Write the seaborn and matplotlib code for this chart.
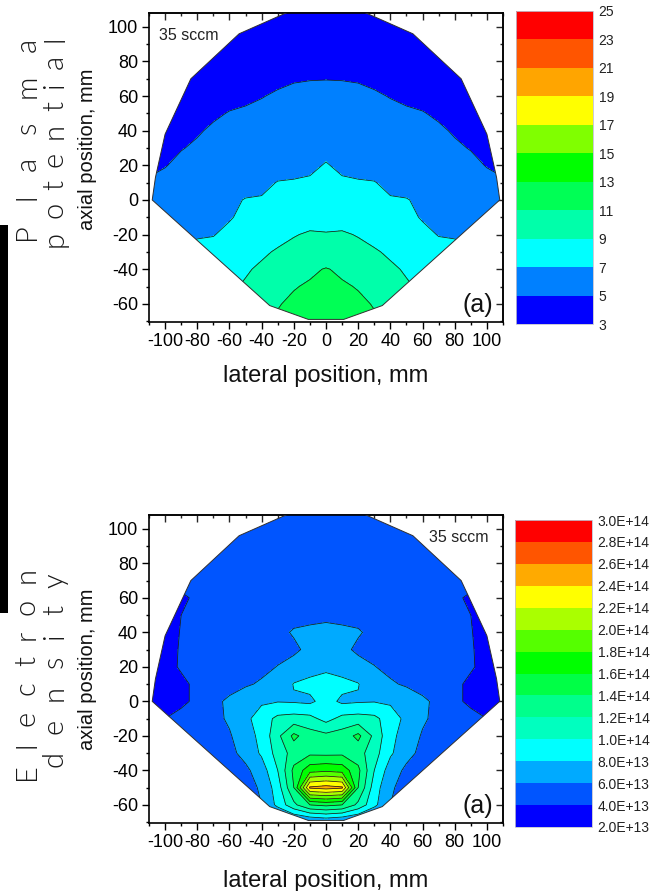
import numpy as np
import matplotlib
matplotlib.use("Agg")
import matplotlib.pyplot as plt
from matplotlib.patches import Polygon, Rectangle
import seaborn as sns

sns.set_theme(style="ticks")
plt.rcParams["font.family"] = ["Liberation Sans", "DejaVu Sans"]
plt.rcParams["axes.unicode_minus"] = False

FIG_W, FIG_H = 654, 891

# measurement grid (mm)
lateral_mm = [-110, -100, -90, -80, -70, -60, -50, -40, -30, -20, -10, 0,
              10, 20, 30, 40, 50, 60, 70, 80, 90, 100, 110]
axial_mm = [110, 100, 90, 80, 70, 60, 50, 40, 30, 20, 10, 0,
            -10, -20, -30, -40, -50, -60, -70]

# plasma potential, V  (rows = axial_mm, columns = lateral_mm)
potential_V = [
    [2.8, 2.9, 3.0, 3.1, 3.2, 3.3, 3.4, 3.5, 3.6, 3.7, 3.8, 3.8, 3.8, 3.7, 3.6, 3.5, 3.4, 3.3, 3.2, 3.1, 3.0, 2.9, 2.8],
    [3.0, 3.1, 3.2, 3.3, 3.4, 3.5, 3.6, 3.7, 3.8, 3.9, 4.0, 4.0, 4.0, 3.9, 3.8, 3.7, 3.6, 3.5, 3.4, 3.3, 3.2, 3.1, 3.0],
    [3.3, 3.4, 3.5, 3.6, 3.7, 3.8, 3.9, 4.0, 4.1, 4.2, 4.3, 4.3, 4.3, 4.2, 4.1, 4.0, 3.9, 3.8, 3.7, 3.6, 3.5, 3.4, 3.3],
    [3.6, 3.7, 3.8, 3.9, 4.0, 4.1, 4.2, 4.3, 4.4, 4.5, 4.6, 4.6, 4.6, 4.5, 4.4, 4.3, 4.2, 4.1, 4.0, 3.9, 3.8, 3.7, 3.6],
    [3.9, 4.0, 4.1, 4.2, 4.3, 4.4, 4.5, 4.6, 4.75, 4.9, 4.95, 4.97, 4.95, 4.9, 4.75, 4.6, 4.5, 4.4, 4.3, 4.2, 4.1, 4.0, 3.9],
    [4.1, 4.25, 4.35, 4.5, 4.6, 4.7, 4.8, 4.95, 5.15, 5.3, 5.4, 5.4, 5.4, 5.3, 5.15, 4.95, 4.8, 4.7, 4.6, 4.5, 4.35, 4.25, 4.1],
    [4.3, 4.45, 4.6, 4.75, 4.85, 5.05, 5.15, 5.3, 5.5, 5.7, 5.8, 5.8, 5.8, 5.7, 5.5, 5.3, 5.15, 5.05, 4.85, 4.75, 4.6, 4.45, 4.3],
    [4.5, 4.65, 4.8, 4.9, 5.15, 5.35, 5.5, 5.6, 5.8, 6.0, 6.1, 6.2, 6.1, 6.0, 5.8, 5.6, 5.5, 5.35, 5.15, 4.9, 4.8, 4.65, 4.5],
    [4.65, 4.8, 4.95, 5.15, 5.5, 5.65, 5.8, 5.9, 6.1, 6.3, 6.4, 6.6, 6.4, 6.3, 6.1, 5.9, 5.8, 5.65, 5.5, 5.15, 4.95, 4.8, 4.65],
    [4.8, 4.95, 5.25, 5.5, 5.8, 6.0, 6.2, 6.3, 6.5, 6.6, 6.7, 7.1, 6.7, 6.6, 6.5, 6.3, 6.2, 6.0, 5.8, 5.5, 5.25, 4.95, 4.8],
    [5.1, 5.3, 5.6, 5.9, 6.2, 6.4, 6.6, 6.7, 7.05, 7.1, 7.2, 7.3, 7.2, 7.1, 7.05, 6.7, 6.6, 6.4, 6.2, 5.9, 5.6, 5.3, 5.1],
    [5.5, 5.7, 6.0, 6.3, 6.5, 6.8, 7.05, 7.1, 7.4, 7.6, 7.7, 7.8, 7.7, 7.6, 7.4, 7.1, 7.05, 6.8, 6.5, 6.3, 6.0, 5.7, 5.5],
    [5.8, 6.0, 6.3, 6.6, 6.75, 6.9, 7.3, 7.6, 7.9, 8.2, 8.3, 8.4, 8.3, 8.2, 7.9, 7.6, 7.3, 6.9, 6.75, 6.6, 6.3, 6.0, 5.8],
    [6.1, 6.3, 6.6, 6.9, 6.95, 7.3, 7.8, 8.1, 8.4, 8.9, 9.2, 9.1, 9.2, 8.9, 8.4, 8.1, 7.8, 7.3, 6.95, 6.9, 6.6, 6.3, 6.1],
    [6.4, 6.6, 7.0, 7.3, 7.4, 7.8, 8.3, 8.7, 9.2, 9.5, 9.8, 9.8, 9.8, 9.5, 9.2, 8.7, 8.3, 7.8, 7.4, 7.3, 7.0, 6.6, 6.4],
    [6.8, 7.0, 7.4, 7.7, 7.8, 8.3, 8.8, 9.3, 9.8, 10.2, 10.7, 11.1, 10.7, 10.2, 9.8, 9.3, 8.8, 8.3, 7.8, 7.7, 7.4, 7.0, 6.8],
    [7.2, 7.4, 7.8, 8.1, 8.2, 8.7, 9.2, 9.9, 10.4, 10.9, 11.2, 11.6, 11.2, 10.9, 10.4, 9.9, 9.2, 8.7, 8.2, 8.1, 7.8, 7.4, 7.2],
    [7.6, 7.8, 8.2, 8.5, 8.6, 9.1, 9.7, 10.4, 10.9, 11.3, 11.6, 12.0, 11.6, 11.3, 10.9, 10.4, 9.7, 9.1, 8.6, 8.5, 8.2, 7.8, 7.6],
    [8.0, 8.2, 8.6, 8.9, 9.0, 9.4, 10.1, 10.8, 11.2, 11.5, 11.8, 12.2, 11.8, 11.5, 11.2, 10.8, 10.1, 9.4, 9.0, 8.9, 8.6, 8.2, 8.0],
]

# electron density, 1e13 cm^-3  (rows = axial_mm, columns = lateral_mm)
density_1e13 = [
    [4.3, 4.4, 4.5, 4.6, 4.6, 4.6, 4.6, 4.6, 4.6, 4.6, 4.6, 4.6, 4.6, 4.6, 4.6, 4.6, 4.6, 4.6, 4.6, 4.6, 4.5, 4.4, 4.3],
    [4.3, 4.4, 4.5, 4.6, 4.6, 4.7, 4.7, 4.7, 4.7, 4.7, 4.7, 4.7, 4.7, 4.7, 4.7, 4.7, 4.7, 4.7, 4.6, 4.6, 4.5, 4.4, 4.3],
    [4.2, 4.3, 4.5, 4.6, 4.7, 4.7, 4.8, 4.8, 4.8, 4.8, 4.8, 4.8, 4.8, 4.8, 4.8, 4.8, 4.8, 4.7, 4.7, 4.6, 4.5, 4.3, 4.2],
    [4.0, 4.1, 4.3, 4.6, 4.7, 4.7, 4.8, 4.8, 4.9, 4.9, 4.9, 4.9, 4.9, 4.9, 4.9, 4.8, 4.8, 4.7, 4.7, 4.6, 4.3, 4.1, 4.0],
    [3.7, 3.9, 4.2, 4.5, 4.7, 4.8, 4.8, 4.9, 4.9, 5.0, 5.0, 5.0, 5.0, 5.0, 4.9, 4.9, 4.8, 4.8, 4.7, 4.5, 4.2, 3.9, 3.7],
    [3.5, 3.7, 3.9, 4.1, 4.4, 4.6, 4.8, 4.9, 5.0, 5.1, 5.2, 5.2, 5.2, 5.1, 5.0, 4.9, 4.8, 4.6, 4.4, 4.1, 3.9, 3.7, 3.5],
    [3.4, 3.6, 4.0, 4.3, 4.5, 4.7, 4.9, 5.0, 5.2, 5.5, 5.6, 5.7, 5.6, 5.5, 5.2, 5.0, 4.9, 4.7, 4.5, 4.3, 4.0, 3.6, 3.4],
    [3.4, 3.6, 4.05, 4.4, 4.6, 4.8, 5.0, 5.2, 5.6, 6.15, 6.3, 6.4, 6.3, 6.15, 5.6, 5.2, 5.0, 4.8, 4.6, 4.4, 4.05, 3.6, 3.4],
    [3.3, 3.6, 4.1, 4.5, 4.7, 4.9, 5.1, 5.3, 5.5, 5.7, 6.4, 6.6, 6.4, 5.7, 5.5, 5.3, 5.1, 4.9, 4.7, 4.5, 4.1, 3.6, 3.3],
    [3.3, 3.7, 4.1, 4.5, 4.8, 5.1, 5.3, 5.6, 6.05, 6.6, 7.1, 7.6, 7.1, 6.6, 6.05, 5.6, 5.3, 5.1, 4.8, 4.5, 4.1, 3.7, 3.3],
    [3.3, 3.6, 3.8, 4.2, 5.0, 5.4, 5.8, 6.2, 6.6, 8.1, 8.6, 8.8, 8.6, 8.1, 6.6, 6.2, 5.8, 5.4, 5.0, 4.2, 3.8, 3.6, 3.3],
    [3.3, 3.5, 3.8, 4.2, 5.6, 6.3, 7.0, 7.7, 7.9, 7.8, 7.6, 8.8, 7.6, 7.8, 7.9, 7.7, 7.0, 6.3, 5.6, 4.2, 3.8, 3.5, 3.3],
    [3.8, 4.0, 4.3, 4.6, 5.4, 6.3, 7.5, 9.0, 10.5, 10.8, 10.6, 9.3, 10.6, 10.8, 10.5, 9.0, 7.5, 6.3, 5.4, 4.6, 4.3, 4.0, 3.8],
    [4.0, 4.1, 4.3, 4.6, 5.0, 5.8, 7.2, 8.5, 11.5, 14.5, 12.9, 12.5, 12.9, 14.5, 11.5, 8.5, 7.2, 5.8, 5.0, 4.6, 4.3, 4.1, 4.0],
    [4.1, 4.2, 4.4, 4.6, 4.9, 5.5, 6.6, 8.3, 10.8, 12.8, 13.6, 13.5, 13.6, 12.8, 10.8, 8.3, 6.6, 5.5, 4.9, 4.6, 4.4, 4.2, 4.1],
    [4.2, 4.3, 4.4, 4.5, 4.7, 5.0, 5.6, 7.0, 10.0, 14.5, 17.2, 17.6, 17.2, 14.5, 10.0, 7.0, 5.6, 5.0, 4.7, 4.5, 4.4, 4.3, 4.2],
    [4.2, 4.3, 4.4, 4.5, 4.6, 4.8, 5.2, 6.3, 9.0, 14.0, 24.3, 24.8, 24.3, 14.0, 9.0, 6.3, 5.2, 4.8, 4.6, 4.5, 4.4, 4.3, 4.2],
    [4.2, 4.2, 4.3, 4.4, 4.5, 4.7, 5.0, 6.0, 8.5, 11.5, 14.0, 14.5, 14.0, 11.5, 8.5, 6.0, 5.0, 4.7, 4.5, 4.4, 4.3, 4.2, 4.2],
    [4.2, 4.2, 4.2, 4.2, 4.3, 4.3, 4.4, 4.5, 4.6, 5.0, 5.5, 6.0, 5.5, 5.0, 4.6, 4.5, 4.4, 4.3, 4.3, 4.2, 4.2, 4.2, 4.2],
]

# outline of the measured region (mm)
domain_lateral = [-108, -106, -100, -84, -54, -20, 20, 54, 84, 100, 106, 108, 35, 11, -11, -35]
domain_axial = [0, 13, 38, 70, 96, 110, 110, 96, 70, 38, 13, 0, -61, -69, -69, -61]

pot_levels = [3, 5, 7, 9, 11, 13, 15, 17, 19, 21, 23, 25]
pot_hex = ["#0000ff", "#0080ff", "#00ffff", "#00ffaa", "#00ff55", "#00ff00",
           "#80ff00", "#ffff00", "#ffa500", "#ff5500", "#ff0000"]

dens_levels = [2, 4, 6, 8, 10, 12, 14, 16, 18, 20, 22, 24, 26, 28, 30]
dens_hex = ["#0000ff", "#0055ff", "#00aaff", "#00ffff", "#00ffbf", "#00ff8c",
            "#00ff46", "#00ff00", "#55ff00", "#aaff00", "#ffff00", "#ffaa00",
            "#ff5500", "#ff0000"]

side_font = ["Lato", "DejaVu Sans"]


def draw_map(ax, cax, values, levels, colors, labels, sccm_x, sccm_ha, ylabel_y, xlabel_y):
    outline = Polygon(np.column_stack([domain_lateral, domain_axial]), closed=True,
                      facecolor="none", edgecolor="#303030", lw=0.7, zorder=3)
    ax.add_patch(outline)
    cs = ax.contourf(lateral_mm, axial_mm, values, levels=levels, colors=colors)
    cl = ax.contour(lateral_mm, axial_mm, values, levels=levels, colors="#1a1a1a", linewidths=0.55)
    cs.set_clip_path(outline)
    cl.set_clip_path(outline)

    ax.set_xlim(-110, 110)
    ax.set_ylim(-70.5, 108)
    ax.set_xticks(np.arange(-100, 101, 20))
    ax.set_xticks(np.arange(-110, 111, 10), minor=True)
    ax.set_yticks(np.arange(-60, 101, 20))
    ax.set_yticks(np.arange(-70, 101, 10), minor=True)
    ax.tick_params(which="both", direction="out", width=1, colors="black", labelsize=13, pad=3)
    ax.tick_params(which="major", length=5)
    ax.tick_params(which="minor", length=2.5)
    for s in ax.spines.values():
        s.set_linewidth(1.2)
        s.set_color("black")

    secx = ax.secondary_xaxis("top")
    secx.set_xticks(np.arange(-100, 101, 20))
    secx.set_xticks(np.arange(-110, 111, 10), minor=True)
    secx.tick_params(axis="x", which="both", direction="in", width=1,
                     labeltop=False, labelbottom=False)
    secx.tick_params(which="major", length=5)
    secx.tick_params(which="minor", length=2.5)
    secx.spines["top"].set_linewidth(1.2)
    secy = ax.secondary_yaxis("right")
    secy.set_yticks(np.arange(-60, 101, 20))
    secy.set_yticks(np.arange(-70, 101, 10), minor=True)
    secy.tick_params(axis="y", which="both", direction="in", width=1,
                     labelright=False, labelleft=False)
    secy.tick_params(which="major", length=5)
    secy.tick_params(which="minor", length=2.5)
    secy.spines["right"].set_linewidth(1.2)

    ax.set_xlabel("lateral position, mm", fontsize=17, color="#111111")
    ax.set_ylabel("axial position, mm", fontsize=14.5, color="#111111")
    ax.xaxis.set_label_coords(0.5, xlabel_y)
    ax.yaxis.set_label_coords(-0.147, ylabel_y)

    ax.text(sccm_x, 95, "35 sccm", ha=sccm_ha, va="center", fontsize=11.5, color="#222222")
    ax.text(104, -60.5, "(a)", ha="right", va="center", fontsize=18, color="#111111")

    cb = fig.colorbar(cs, cax=cax, ticks=levels)
    cb.set_ticklabels(labels)
    cb.outline.set_linewidth(0.6)
    cb.outline.set_edgecolor("#c0c0d0")
    cax.tick_params(length=0, labelsize=10, pad=4, colors="#222222")


def spread_word(word, x_px, y_bottom_px, y_top_px, size):
    r = fig.canvas.get_renderer()
    texts = [fig.text(0, 0, ch, fontsize=size, family=side_font, fontweight=300,
                      color="#1a1a1a") for ch in word]
    widths = [t.get_window_extent(r).width for t in texts]
    gap = ((y_bottom_px - y_top_px) - sum(widths)) / (len(word) - 1)
    y = FIG_H - y_bottom_px
    for t, w in zip(texts, widths):
        t.set_position((x_px / FIG_W, (y + w / 2) / FIG_H))
        t.set_rotation(90)
        t.set_rotation_mode("anchor")
        t.set_ha("center")
        t.set_va("baseline")
        y += w + gap


fig = plt.figure(figsize=(FIG_W / 100, FIG_H / 100), dpi=100)
fig.patch.set_facecolor("white")

ax1 = fig.add_axes([149 / FIG_W, 1 - 322 / FIG_H, 354 / FIG_W, 309 / FIG_H])
cax1 = fig.add_axes([516 / FIG_W, 1 - 324 / FIG_H, 77 / FIG_W, 313 / FIG_H])
ax2 = fig.add_axes([149 / FIG_W, 1 - 823 / FIG_H, 354 / FIG_W, 308 / FIG_H])
cax2 = fig.add_axes([515 / FIG_W, 1 - 827 / FIG_H, 77 / FIG_W, 307 / FIG_H])

pot_colors = sns.color_palette(pot_hex)
dens_colors = sns.color_palette(dens_hex)

draw_map(ax1, cax1, potential_V, pot_levels, pot_colors,
         [str(v) for v in pot_levels], -104, "left", 0.56, -0.139)
draw_map(ax2, cax2, density_1e13, dens_levels, dens_colors,
         [f"{v * 1e13:.1E}" for v in dens_levels], 101, "right", 0.5, -0.153)

# dark strip on the left edge of the slide
fig.add_artist(Rectangle((0, 1 - 613 / FIG_H), 8 / FIG_W, 388 / FIG_H,
                         transform=fig.transFigure, facecolor="black", edgecolor="none"))

spread_word("Plasma", 35.5, 240, 38, 21)
spread_word("potential", 63, 247, 36, 21)
spread_word("Electron", 35, 780, 567, 21)
spread_word("density", 63, 767, 573, 21)

fig.savefig("out.png", dpi=100)
